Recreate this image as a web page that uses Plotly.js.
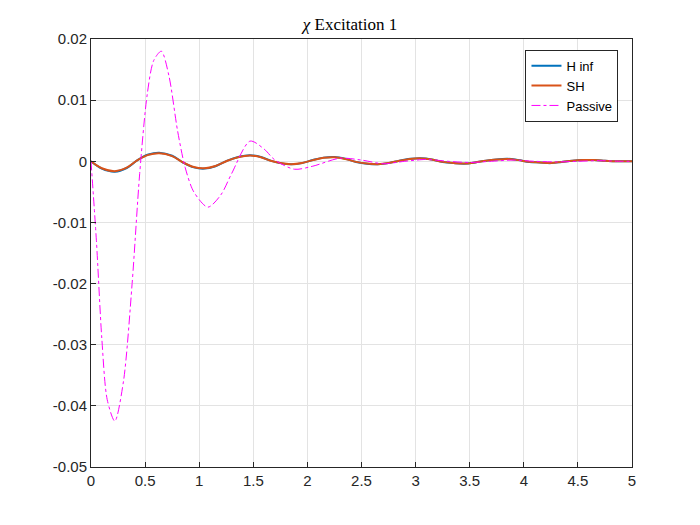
<!DOCTYPE html>
<html><head><script src="https://cdn.plot.ly/plotly-3.0.1.min.js"></script></head>
<body style="margin:0"><div id="c" style="width:700px;height:525px"></div>
<script>
const tP=[0,0.05,0.1,0.15,0.22,0.3,0.38,0.45,0.52,0.58,0.65,0.72,0.8,0.87,0.95,1.08,1.2,1.3,1.47,1.6,1.7,1.88,2.05,2.3,2.5,2.7,2.9,3.1,3.3,3.5,3.7,3.9,4.1,4.3,4.5,4.7,4.9,5];
const passive=[0,-0.013,-0.029,-0.039,-0.0425,-0.036,-0.02,-0.002,0.011,0.0165,0.018,0.014,0.005,-0.001,-0.005,-0.0075,-0.0055,-0.002,0.0033,0.002,0.0002,-0.0013,-0.0008,0.0005,0.0002,-0.0004,0,0.0003,0,-0.0002,0,0.0002,0,-0.0001,0,0.0001,0,0];
const tH=[0,0.1,0.22,0.33,0.43,0.53,0.63,0.75,0.85,0.95,1.05,1.15,1.26,1.36,1.47,1.57,1.66,1.75,1.85,1.95,2.05,2.15,2.25,2.35,2.45,2.55,2.65,2.75,2.85,2.95,3.05,3.15,3.25,3.35,3.45,3.55,3.65,3.75,3.85,3.95,4.05,4.15,4.25,4.35,4.45,4.55,4.65,4.75,4.85,5];
const hinf=[0,-0.0012,-0.0017,-0.0011,0.0002,0.0011,0.0014,0.0009,-0.0002,-0.001,-0.0012,-0.0008,0.0001,0.0007,0.001,0.0007,0.0001,-0.0003,-0.0005,-0.0003,0.0002,0.0006,0.0007,0.0004,-0.0001,-0.0004,-0.0005,-0.0003,0.0001,0.0004,0.0005,0.0003,-0.0001,-0.0003,-0.0004,-0.0002,0.0001,0.0003,0.0004,0.0002,-0.0001,-0.0002,-0.0003,-0.0001,0.0001,0.0002,0.0002,0.0001,0,0];
const sh=hinf.map(v=>v*0.95);
const yTicks=[0.02,0.01,0,-0.01,-0.02,-0.03,-0.04,-0.05];
const yLabels=['0.02','0.01','0','-0.01','-0.02','-0.03','-0.04','-0.05'];
const data=[
{x:tH,y:hinf,name:'H inf',mode:'lines',line:{color:'#0072BD',width:2,shape:'spline'}},
{x:tH,y:sh,name:'SH',mode:'lines',line:{color:'#D95319',width:2,shape:'spline'}},
{x:tP,y:passive,name:'Passive',mode:'lines',line:{color:'#FF00FF',width:1,dash:'dashdot',shape:'spline',smoothing:0.8}}];
const ax={showline:true,mirror:true,linecolor:'#262626',gridcolor:'#e3e3e3',ticks:'inside',ticklen:5,tickcolor:'#262626',zeroline:false,tickfont:{family:'Liberation Sans, Arial',size:15,color:'#262626'}};
Plotly.newPlot('c',data,{
width:700,height:525,paper_bgcolor:'#fff',plot_bgcolor:'#fff',
margin:{l:91,r:68,t:39,b:58},
title:{text:'<i>χ</i> Excitation 1',x:0.5,xanchor:'center',y:0.965,font:{family:'Liberation Serif, Times New Roman',size:17,color:'#000'}},
xaxis:Object.assign({},ax,{range:[0,5],dtick:0.5}),
yaxis:Object.assign({},ax,{range:[-0.05,0.02],tickmode:'array',tickvals:yTicks,ticktext:yLabels}),
showlegend:true,
legend:{x:0.975,y:0.975,xanchor:'right',yanchor:'top',bordercolor:'#262626',borderwidth:1,bgcolor:'#fff',font:{family:'Liberation Sans, Arial',size:13,color:'#000'}}
},{displayModeBar:false});
</script></body></html>
